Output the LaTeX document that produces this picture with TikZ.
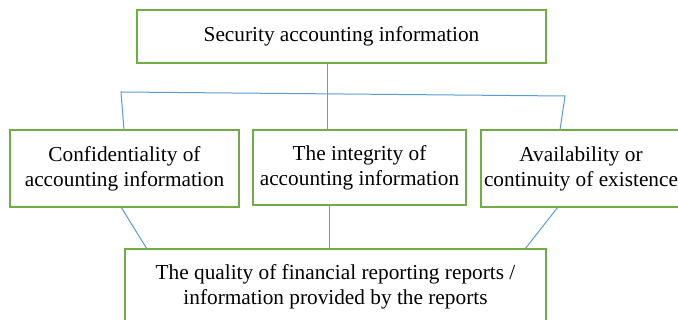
\documentclass[tikz,border=0pt]{standalone}
\usepackage{fontspec}
\setmainfont{Liberation Serif}
\definecolor{boxgreen}{RGB}{112,173,71}
\definecolor{linkblue}{RGB}{91,155,213}
\begin{document}
\begin{tikzpicture}[x=1pt,y=-1pt,
  box/.style={draw=boxgreen,line width=2.8pt,fill=white,inner sep=0pt,
    align=center,font=\fontsize{21.3}{25}\selectfont},
  link/.style={draw=linkblue,line width=1pt}]
\useasboundingbox (0,0) rectangle (678,320);

% connectors (drawn first, boxes sit on top)
\coordinate (busL) at (121,92);
\coordinate (busR) at (565,96);
\coordinate (stem) at (327,63);
\coordinate (stemEnd) at (327,130);
\coordinate (aTop) at (124,130);
\coordinate (cTop) at (560,130);
\coordinate (aBot) at (121,207);
\coordinate (bBot) at (329,205);
\coordinate (cBot) at (558,207);
\coordinate (qA) at (147,249);
\coordinate (qB) at (329,249);
\coordinate (qC) at (525,249);

\draw[link] (stem) -- (stemEnd);
\draw[link] (aTop) -- (busL) -- (busR) -- (cTop);
\draw[link] (aBot) -- (qA);
\draw[link] (bBot) -- (qB);
\draw[link] (cBot) -- (qC);

% boxes
\node[box,minimum width=409pt,minimum height=53pt] (sec) at (341.5,36.5)
  {Security accounting information};
\node[box,minimum width=229pt,minimum height=77pt] (conf) at (124.5,168.5)
  {Confidentiality of\\accounting information};
\node[box,minimum width=213pt,minimum height=75pt] (integ) at (359.5,167.5)
  {The integrity of\\accounting information};
\node[box,minimum width=200pt,minimum height=77pt] (avail) at (581,168.5)
  {Availability or\\continuity of existence};
\node[box,minimum width=421pt,minimum height=75pt] (qual) at (335.5,286.5)
  {The quality of financial reporting reports /\\information provided by the reports};
\end{tikzpicture}
\end{document}
